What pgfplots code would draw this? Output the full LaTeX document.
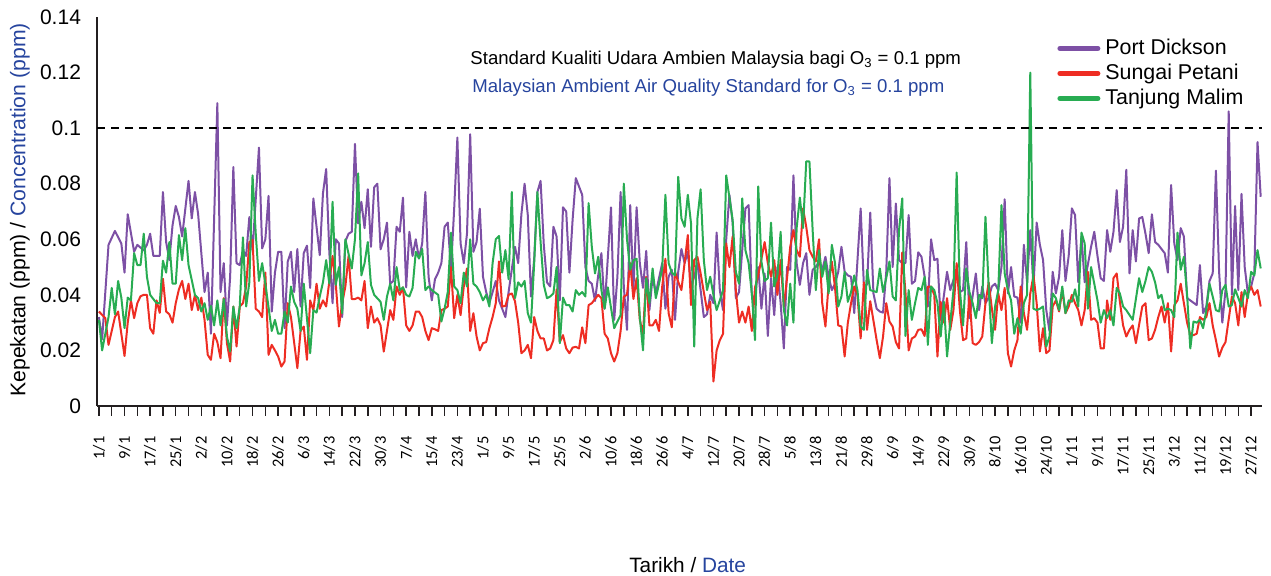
\documentclass[border=0pt]{standalone}
\usepackage{fontspec}
\setmainfont{Liberation Sans}
\newfontfamily\carlito{Carlito}
\usepackage{pgfplots}
\usepackage{pgfplotstable}
\pgfplotsset{compat=1.18}
\definecolor{pd}{RGB}{125,80,165}
\definecolor{sp}{RGB}{238,45,35}
\definecolor{tm}{RGB}{40,172,82}
\definecolor{enblue}{RGB}{38,68,158}
\definecolor{axk}{RGB}{35,31,32}

\pgfplotstableread{
d v
0 0.032
1 0.024
3 0.058
5 0.063
7 0.0585
8 0.048
9 0.069
11 0.0555
12 0.058
14 0.056
15 0.058
16 0.062
17 0.054
19 0.054
20 0.077
21 0.059
22 0.0525
23 0.065
24 0.072
25 0.068
26 0.061
28 0.081
29 0.0675
30 0.077
31 0.069
32 0.055
33 0.041
34 0.048
35 0.026
37 0.109
38 0.041
39 0.0514
40 0.029
41 0.0465
42 0.086
43 0.0514
44 0.0507
45 0.056
46 0.054
47 0.068
48 0.056
50 0.093
51 0.0567
52 0.060
53 0.0756
54 0.034
55 0.048
56 0.0555
57 0.0555
58 0.028
59 0.052
60 0.0555
61 0.041
62 0.0565
63 0.0358
64 0.055
65 0.0577
66 0.0425
67 0.0747
69 0.0543
70 0.0765
71 0.0853
72 0.055
73 0.037
74 0.060
75 0.0585
76 0.032
77 0.0593
78 0.062
79 0.0627
80 0.0943
81 0.0657
82 0.0735
83 0.064
84 0.078
85 0.0573
86 0.0787
87 0.080
88 0.0564
89 0.060
90 0.066
91 0.044
92 0.045
93 0.0645
94 0.0627
95 0.075
96 0.0427
97 0.0627
98 0.054
99 0.060
100 0.0531
101 0.0585
102 0.077
103 0.0465
104 0.038
105 0.0456
106 0.048
107 0.0514
108 0.0645
109 0.066
110 0.049
111 0.071
112 0.0966
113 0.0585
114 0.0514
115 0.062
116 0.0978
117 0.0555
118 0.059
119 0.071
120 0.0465
121 0.041
122 0.037
124 0.045
125 0.038
127 0.032
128 0.041
130 0.0573
131 0.0514
132 0.069
133 0.080
134 0.0687
135 0.0394
136 0.053
137 0.077
138 0.081
139 0.058
140 0.0445
141 0.043
142 0.0645
143 0.061
144 0.038
145 0.0715
146 0.070
147 0.048
148 0.067
149 0.082
150 0.079
151 0.076
152 0.050
153 0.045
154 0.044
155 0.0378
156 0.047
157 0.055
158 0.035
160 0.0715
161 0.031
162 0.0465
163 0.077
164 0.043
165 0.0274
166 0.0723
167 0.0417
168 0.0715
169 0.0514
170 0.0425
171 0.0558
172 0.0345
173 0.0465
174 0.0405
175 0.046
176 0.0514
177 0.035
178 0.0465
179 0.049
180 0.031
181 0.0483
182 0.0565
183 0.0514
184 0.0555
185 0.043
186 0.0465
187 0.0514
188 0.0417
189 0.032
190 0.033
191 0.040
192 0.037
193 0.0624
194 0.0417
195 0.0345
196 0.060
197 0.076
198 0.066
199 0.0388
200 0.041
201 0.0561
202 0.0711
203 0.0723
204 0.040
205 0.038
206 0.050
207 0.035
208 0.0477
209 0.0252
210 0.046
211 0.0327
212 0.050
213 0.037
214 0.0207
215 0.050
216 0.049
217 0.083
218 0.0514
219 0.0436
220 0.0514
221 0.055
222 0.040
223 0.049
224 0.050
225 0.052
226 0.049
227 0.0537
228 0.0465
229 0.0417
230 0.044
231 0.0483
232 0.0573
233 0.0483
234 0.047
235 0.0465
236 0.0334
238 0.0711
239 0.0436
240 0.0436
241 0.0696
242 0.0405
243 0.035
244 0.034
245 0.0336
246 0.0483
247 0.082
248 0.050
249 0.0729
250 0.0525
251 0.0514
252 0.0514
253 0.0687
254 0.044
255 0.045
256 0.0553
257 0.0537
258 0.0465
259 0.0358
260 0.060
261 0.0525
262 0.053
263 0.031
265 0.0483
266 0.0417
268 0.049
269 0.041
270 0.0417
271 0.059
272 0.0316
274 0.0477
275 0.0345
276 0.043
277 0.037
278 0.039
279 0.043
280 0.044
281 0.0417
282 0.050
283 0.0744
284 0.0405
285 0.050
286 0.0394
287 0.039
288 0.030
289 0.058
290 0.0445
291 0.0633
292 0.043
293 0.066
294 0.058
295 0.0525
296 0.0345
297 0.027
298 0.0483
299 0.0405
300 0.0465
301 0.0633
302 0.045
303 0.054
304 0.0711
305 0.0687
306 0.0445
307 0.061
308 0.0445
310 0.0573
311 0.0627
312 0.054
313 0.046
314 0.045
315 0.0633
316 0.0555
317 0.0627
318 0.0777
319 0.059
320 0.0645
321 0.085
322 0.0477
323 0.0633
324 0.052
325 0.0675
326 0.068
327 0.062
328 0.055
329 0.069
330 0.059
331 0.058
333 0.055
334 0.048
335 0.0795
336 0.0585
337 0.0525
338 0.064
339 0.061
340 0.0388
341 0.038
343 0.0363
344 0.0507
345 0.0334
346 0.0358
347 0.045
348 0.0477
349 0.0847
350 0.0483
351 0.030
352 0.0417
353 0.106
354 0.040
355 0.072
356 0.0417
357 0.0763
358 0.050
359 0.0405
360 0.043
361 0.0477
362 0.095
363 0.0753
}\portdickson

\pgfplotstableread{
d v
0 0.034
2 0.0316
3 0.022
5 0.032
6 0.034
8 0.018
9 0.030
10 0.038
11 0.0316
12 0.037
13 0.0395
14 0.040
15 0.040
16 0.028
17 0.026
18 0.038
19 0.0335
20 0.0458
21 0.034
22 0.033
23 0.030
24 0.037
25 0.042
26 0.045
27 0.0385
28 0.044
29 0.0345
30 0.040
31 0.0345
32 0.039
33 0.031
34 0.0184
35 0.0166
36 0.026
37 0.023
38 0.0172
39 0.0388
40 0.0226
41 0.016
42 0.0358
43 0.0214
44 0.0358
45 0.037
46 0.043
47 0.059
48 0.0597
49 0.035
50 0.034
51 0.032
52 0.048
53 0.0184
54 0.022
55 0.020
56 0.0178
57 0.0142
58 0.016
59 0.037
60 0.032
62 0.0136
63 0.027
64 0.0286
65 0.0166
66 0.038
67 0.0345
68 0.044
69 0.035
70 0.038
71 0.0358
73 0.054
74 0.044
75 0.0286
76 0.037
77 0.043
78 0.054
79 0.0385
80 0.0385
81 0.039
82 0.038
83 0.045
84 0.028
85 0.0358
86 0.030
87 0.0316
88 0.029
89 0.0196
91 0.0345
92 0.031
93 0.043
94 0.040
95 0.0427
96 0.029
97 0.027
98 0.029
99 0.034
100 0.034
101 0.032
102 0.027
103 0.0237
104 0.028
105 0.0276
106 0.027
107 0.0345
108 0.035
109 0.0358
110 0.050
111 0.0316
112 0.040
113 0.0327
114 0.043
115 0.0495
116 0.027
117 0.0334
118 0.025
119 0.020
120 0.0226
121 0.023
122 0.028
123 0.032
124 0.037
125 0.052
126 0.0358
127 0.036
128 0.040
129 0.0405
130 0.0377
131 0.030
132 0.019
133 0.020
134 0.022
135 0.0172
136 0.032
137 0.027
138 0.0243
139 0.0243
140 0.020
141 0.0207
142 0.0237
143 0.042
144 0.023
145 0.0255
146 0.0207
147 0.019
148 0.021
149 0.0213
150 0.0207
151 0.0283
152 0.0226
153 0.0363
154 0.037
156 0.040
157 0.0388
158 0.026
159 0.0243
160 0.019
161 0.016
162 0.019
163 0.027
164 0.0394
165 0.040
166 0.0514
167 0.0385
168 0.046
169 0.031
170 0.026
171 0.0465
172 0.029
173 0.029
174 0.031
175 0.027
176 0.043
177 0.053
178 0.0334
179 0.0283
180 0.0483
181 0.0447
182 0.0417
184 0.0615
185 0.0363
186 0.0525
187 0.0537
188 0.0477
189 0.041
190 0.0345
191 0.0375
192 0.0088
193 0.020
194 0.0237
195 0.026
196 0.0585
197 0.050
198 0.061
199 0.0417
200 0.030
201 0.034
202 0.030
203 0.0358
204 0.027
205 0.0427
206 0.047
208 0.059
209 0.0514
210 0.0465
211 0.0525
212 0.040
213 0.0525
214 0.0358
215 0.046
216 0.0573
217 0.0633
218 0.0561
219 0.0537
220 0.0711
221 0.0645
222 0.0561
223 0.0537
224 0.052
225 0.060
226 0.037
227 0.0286
228 0.044
229 0.052
230 0.0425
231 0.029
232 0.0286
233 0.0178
234 0.030
235 0.037
236 0.043
237 0.040
238 0.0243
239 0.0445
240 0.0274
241 0.0377
243 0.0237
244 0.0172
245 0.025
246 0.037
247 0.0304
248 0.0286
249 0.023
250 0.0207
251 0.0553
252 0.041
253 0.020
254 0.0243
255 0.025
256 0.0274
257 0.0276
258 0.0252
259 0.043
260 0.043
261 0.040
262 0.0178
263 0.0375
264 0.030
265 0.0388
266 0.0274
267 0.0345
268 0.0514
269 0.0345
270 0.0237
271 0.0243
272 0.040
273 0.0226
274 0.022
275 0.023
276 0.025
277 0.037
278 0.0445
279 0.035
280 0.0274
281 0.0405
282 0.0345
283 0.0425
284 0.019
285 0.0142
286 0.020
287 0.0237
288 0.043
289 0.0334
290 0.0274
291 0.0405
292 0.047
293 0.037
294 0.0196
295 0.028
296 0.019
297 0.020
298 0.0358
299 0.038
300 0.034
301 0.0417
302 0.0334
303 0.0358
304 0.040
305 0.037
306 0.0345
307 0.029
308 0.0345
309 0.0483
310 0.031
311 0.0316
312 0.030
313 0.0207
314 0.0207
315 0.038
316 0.031
317 0.046
318 0.0477
319 0.0375
320 0.029
321 0.025
322 0.0274
323 0.029
324 0.0226
326 0.0358
327 0.037
328 0.0237
329 0.0243
330 0.0274
331 0.032
332 0.0358
333 0.030
334 0.037
335 0.0196
336 0.0363
337 0.038
338 0.044
339 0.037
340 0.030
341 0.0255
342 0.0255
343 0.026
344 0.032
345 0.031
346 0.032
347 0.037
348 0.029
349 0.0237
350 0.0178
351 0.021
352 0.023
354 0.0394
355 0.037
356 0.029
357 0.041
358 0.032
359 0.0405
360 0.043
361 0.040
362 0.0417
363 0.0358
}\sungaipetani

\pgfplotstableread{
d v
0 0.031
1 0.020
3 0.032
4 0.0425
5 0.033
6 0.045
7 0.039
8 0.028
9 0.039
10 0.038
11 0.055
12 0.0507
13 0.0507
14 0.062
15 0.0465
16 0.040
18 0.037
19 0.037
20 0.0523
21 0.048
22 0.059
23 0.044
24 0.044
25 0.0615
26 0.0525
27 0.064
28 0.0507
30 0.040
31 0.0388
32 0.034
33 0.037
34 0.031
35 0.036
36 0.029
37 0.038
38 0.029
39 0.0385
40 0.025
41 0.0196
42 0.0358
43 0.028
44 0.0358
45 0.0607
46 0.0358
47 0.0445
48 0.083
49 0.062
50 0.045
51 0.0514
52 0.044
54 0.027
55 0.031
56 0.026
57 0.026
58 0.034
59 0.030
60 0.043
61 0.0375
62 0.035
63 0.027
64 0.044
66 0.019
67 0.0345
68 0.0336
69 0.0394
70 0.0445
71 0.0525
72 0.044
73 0.0735
74 0.0436
75 0.050
76 0.0334
77 0.060
79 0.0495
80 0.060
81 0.0837
82 0.047
83 0.0514
84 0.059
85 0.0436
86 0.040
88 0.0375
89 0.031
90 0.0394
91 0.044
92 0.038
93 0.050
94 0.0417
95 0.0427
96 0.040
97 0.0394
98 0.0425
99 0.0555
100 0.0531
101 0.0565
102 0.0417
103 0.043
104 0.0417
106 0.040
107 0.0304
108 0.035
109 0.041
110 0.0624
111 0.043
112 0.0417
113 0.037
114 0.048
115 0.043
116 0.060
117 0.044
118 0.043
119 0.041
120 0.038
121 0.040
122 0.0358
123 0.0514
124 0.060
125 0.0612
126 0.048
127 0.0561
128 0.0456
129 0.077
130 0.0388
131 0.0445
132 0.043
133 0.045
134 0.0334
135 0.030
136 0.0514
137 0.077
138 0.059
139 0.0436
140 0.0388
141 0.0394
142 0.0405
143 0.050
144 0.0226
145 0.039
146 0.0363
147 0.0363
148 0.034
149 0.0417
150 0.040
151 0.041
152 0.0394
153 0.073
154 0.0573
155 0.0477
156 0.0537
157 0.0417
158 0.035
159 0.0427
161 0.028
162 0.0304
163 0.0327
164 0.080
165 0.060
166 0.049
167 0.0525
168 0.053
169 0.032
170 0.020
171 0.046
172 0.037
173 0.0495
174 0.0388
175 0.044
176 0.0495
177 0.076
178 0.0514
179 0.048
180 0.047
181 0.0825
182 0.0675
183 0.0645
184 0.076
185 0.0657
186 0.0214
187 0.0675
188 0.078
189 0.0525
190 0.0417
191 0.0465
192 0.040
193 0.0345
194 0.038
195 0.0417
196 0.083
197 0.075
198 0.067
199 0.0483
200 0.044
201 0.0747
202 0.0561
203 0.0514
204 0.0405
205 0.0237
206 0.079
207 0.052
208 0.045
209 0.046
210 0.066
211 0.043
212 0.047
213 0.0627
214 0.0345
215 0.029
216 0.044
217 0.030
218 0.064
219 0.075
220 0.064
221 0.088
222 0.088
223 0.0633
224 0.0417
225 0.0561
226 0.0465
227 0.052
228 0.0405
229 0.058
230 0.0514
231 0.0358
232 0.0394
233 0.0483
234 0.0375
235 0.041
236 0.047
237 0.0417
238 0.0286
239 0.0274
240 0.049
241 0.0417
243 0.041
244 0.0495
245 0.041
246 0.046
247 0.052
248 0.0394
249 0.038
250 0.0633
251 0.0747
252 0.0252
253 0.0417
254 0.031
255 0.037
256 0.0425
257 0.0417
258 0.0465
259 0.022
260 0.043
261 0.0417
262 0.037
263 0.025
264 0.0375
265 0.0178
266 0.030
267 0.0417
268 0.084
269 0.0417
270 0.029
271 0.0495
272 0.041
273 0.037
274 0.0316
275 0.040
276 0.0388
277 0.0681
278 0.043
279 0.0226
280 0.0358
281 0.0417
282 0.0723
283 0.0477
284 0.0417
285 0.038
286 0.026
287 0.0316
288 0.026
289 0.037
290 0.040
291 0.120
292 0.035
293 0.0345
294 0.035
295 0.0358
296 0.0214
297 0.025
298 0.0405
299 0.0388
300 0.0345
301 0.043
302 0.0334
303 0.038
304 0.0375
305 0.042
306 0.0358
307 0.0624
308 0.0585
309 0.035
310 0.050
311 0.044
312 0.038
313 0.030
314 0.0345
315 0.0316
316 0.0345
317 0.029
318 0.0425
319 0.0405
320 0.0358
321 0.0345
323 0.031
325 0.046
326 0.041
327 0.045
328 0.050
329 0.0483
330 0.0445
331 0.0388
332 0.040
333 0.0345
334 0.035
335 0.0345
336 0.032
337 0.0624
338 0.049
339 0.0537
340 0.040
341 0.0207
342 0.0304
343 0.030
344 0.031
345 0.028
346 0.0345
347 0.044
348 0.0394
349 0.0345
350 0.034
351 0.0417
352 0.0436
353 0.0358
354 0.0363
355 0.042
357 0.0358
358 0.0417
359 0.0388
360 0.0483
361 0.047
362 0.0561
363 0.0495
}\tanjungmalim

\begin{document}
\begin{tikzpicture}
\begin{axis}[
  scale only axis,
  width=582.5pt, height=194.5pt,
  xmin=-0.6, xmax=363.4, ymin=0, ymax=0.14,
  axis lines*=left,
  axis line style={line width=1.4pt, axk},
  ytick={0,0.02,0.04,0.06,0.08,0.1,0.12,0.14},
  ytick style={draw=none},
  yticklabel style={font=\fontsize{10.5}{12}\selectfont, xshift=0.5pt},
  /pgf/number format/fixed,
  /pgf/number format/assume math mode=true,
  xtick={0,8,...,360},
  minor xtick={4,12,...,356},
  xticklabels={1/1,9/1,17/1,25/1,2/2,10/2,18/2,26/2,6/3,14/3,22/3,30/3,7/4,15/4,23/4,1/5,9/5,17/5,25/5,2/6,10/6,18/6,26/6,4/7,12/7,20/7,28/7,5/8,13/8,21/8,29/8,6/9,14/9,22/9,30/9,8/10,16/10,24/10,1/11,9/11,17/11,25/11,3/12,11/12,19/12,27/12},
  xticklabel style={rotate=90, anchor=east, font=\carlito\fontsize{8.2}{10}\selectfont, inner sep=0pt, xshift=-10pt},
  tick align=outside,
  major tick length=5pt, minor tick length=5pt,
  xtick style={line width=0.75pt, axk},
  minor x tick style={line width=0.75pt, axk},
  xlabel={Tarikh / \textcolor{enblue}{Date}},
  xlabel style={at={(axis description cs:0.507,-0.409)}, anchor=center, font=\fontsize{10.4}{12}\selectfont},
  ylabel={Kepekatan (ppm) / \textcolor{enblue}{Concentration (ppm)}},
  ylabel style={at={(axis description cs:-0.0661,0.504)}, anchor=center, font=\fontsize{10.6}{12}\selectfont},
  legend style={at={(axis description cs:0.8189,0.9563)}, anchor=north west, draw=none, fill=none,
     font=\fontsize{10.7}{12}\selectfont, row sep=2.5pt, column sep=2.5pt,
     nodes={inner sep=0pt, text height=8pt, text depth=2pt}},
  legend cell align=left,
  legend image code/.code={\draw[#1, line width=2.5pt, line cap=round] (1.25pt,0pt) -- (20.25pt,0pt);},
  every axis plot/.append style={line width=1pt, line join=round},
]
\addplot[pd, no markers] table[x=d, y=v] {\portdickson};
\addlegendentry{Port Dickson}
\addplot[sp, no markers] table[x=d, y=v] {\sungaipetani};
\addlegendentry{Sungai Petani}
\addplot[tm, no markers] table[x=d, y=v] {\tanjungmalim};
\addlegendentry{Tanjung Malim}
\addplot[black, dash pattern=on 4pt off 3pt, line width=0.75pt, forget plot] coordinates {(-0.6,0.1) (363.4,0.1)};
\node[anchor=base west, inner sep=0pt, font=\fontsize{9.3}{11}\selectfont] at (axis description cs:0.3202,0.8774) {Standard Kualiti Udara Ambien Malaysia bagi O\textsubscript{3} = 0.1 ppm};
\node[anchor=base west, inner sep=0pt, font=\fontsize{9.3}{11}\selectfont, text=enblue] at (axis description cs:0.3219,0.8054) {Malaysian Ambient Air Quality Standard for O\textsubscript{3} = 0.1 ppm};
\coordinate (BB1) at (axis description cs:-0.08326,-0.43702);
\coordinate (BB2) at (axis description cs:1.00773,1.04370);
\end{axis}
\pgfresetboundingbox
\path[use as bounding box] (BB1) rectangle (BB2);
\end{tikzpicture}
\end{document}
